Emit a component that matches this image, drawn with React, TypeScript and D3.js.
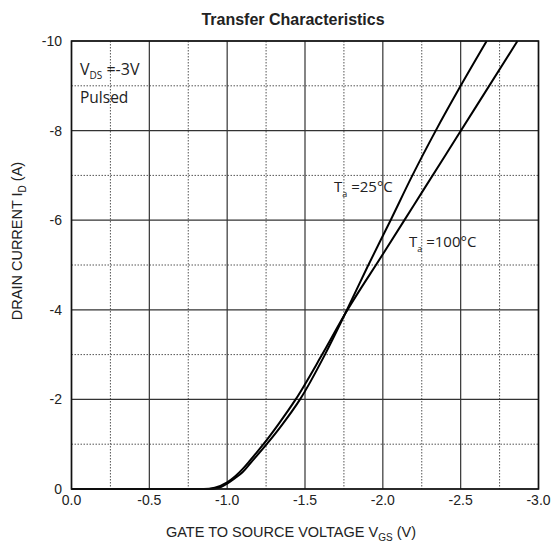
import React from "react";
import * as d3 from "d3";

const xTicks = [0, -0.5, -1.0, -1.5, -2.0, -2.5, -3.0];
const xTickLabels = ["0.0", "-0.5", "-1.0", "-1.5", "-2.0", "-2.5", "-3.0"];
const xMinor = [-0.25, -0.75, -1.25, -1.75, -2.25, -2.75];
const yTicks = [0, -2, -4, -6, -8, -10];
const yTickLabels = ["0", "-2", "-4", "-6", "-8", "-10"];
const yMinor = [-1, -3, -5, -7, -9];

const vgs25 = [0, -0.5, -0.8, -0.88, -0.95, -1.0, -1.05, -1.1, -1.15, -1.254, -1.35, -1.468, -1.628, -1.756, -1.9, -2.05, -2.19, -2.34, -2.5, -2.667];
const id25 = [0, 0, 0, 0, -0.03, -0.12, -0.24, -0.38, -0.58, -1.0, -1.42, -2.0, -3.0, -3.9, -4.95, -6.0, -7.0, -8.0, -9.0, -10.0];

const vgs100 = [0, -0.5, -0.8, -0.85, -0.92, -1.0, -1.05, -1.1, -1.15, -1.233, -1.33, -1.44, -1.61, -1.756, -2.0, -2.2, -2.4, -2.6, -2.865];
const id100 = [0, 0, 0, 0, -0.03, -0.15, -0.28, -0.45, -0.65, -1.0, -1.45, -2.0, -3.0, -3.9, -5.24, -6.34, -7.44, -8.54, -10.0];

const W = 552;
const H = 543;
const L = 71.5, R = 538.5, T = 41, B = 489;

export default function App() {
  const x = d3.scaleLinear().domain([0, -3]).range([L, R]);
  const y = d3.scaleLinear().domain([0, -10]).range([B, T]);
  const line = d3
    .line<[number, number]>()
    .x((d) => x(d[0]))
    .y((d) => y(d[1]))
    .curve(d3.curveMonotoneX);
  const d25 = line(vgs25.map((v, i) => [v, id25[i]] as [number, number])) || "";
  const d100 = line(vgs100.map((v, i) => [v, id100[i]] as [number, number])) || "";
  const sans = "'Liberation Sans', Arial, sans-serif";
  const lab = "'Open Sans', 'Noto Sans', sans-serif";
  return (
    <svg
      width={W}
      height={H}
      style={{ position: "absolute", left: 0, top: 0, background: "#fff" }}
    >
      <rect x={0} y={0} width={W} height={H} fill="#fff" />
      {xMinor.map((v) => (
        <line key={"xm" + v} x1={x(v)} x2={x(v)} y1={T} y2={B} stroke="#555" strokeWidth={1} strokeDasharray="1.5,1.5" />
      ))}
      {yMinor.map((v) => (
        <line key={"ym" + v} x1={L} x2={R} y1={y(v)} y2={y(v)} stroke="#555" strokeWidth={1} strokeDasharray="1.5,1.5" />
      ))}
      {xTicks.map((v) => (
        <line key={"xg" + v} x1={x(v)} x2={x(v)} y1={T} y2={B} stroke="#333" strokeWidth={1.2} />
      ))}
      {yTicks.map((v) => (
        <line key={"yg" + v} x1={L} x2={R} y1={y(v)} y2={y(v)} stroke="#333" strokeWidth={1.2} />
      ))}
      <path d={d25} fill="none" stroke="#000" strokeWidth={2} />
      <path d={d100} fill="none" stroke="#000" strokeWidth={2} />
      <rect x={L} y={T} width={R - L} height={B - T} fill="none" stroke="#111" strokeWidth={1.6} />
      {xTicks.map((v, i) => (
        <text key={"xl" + v} x={x(v)} y={505} textAnchor="middle" fontFamily={sans} fontSize={14} fill="#222">
          {xTickLabels[i]}
        </text>
      ))}
      {yTicks.map((v, i) => (
        <text key={"yl" + v} x={62} y={y(v) + 5} textAnchor="end" fontFamily={sans} fontSize={14} fill="#222">
          {yTickLabels[i]}
        </text>
      ))}
      <text x={293} y={25} textAnchor="middle" fontFamily={sans} fontSize={16} fontWeight="bold" fill="#222">
        Transfer Characteristics
      </text>
      <text x={291} y={537} textAnchor="middle" fontFamily={sans} fontSize={14.5} fill="#222">
        GATE TO SOURCE VOLTAGE V
        <tspan fontSize={10} dy={4}>GS</tspan>
        <tspan dy={-4}> (V)</tspan>
      </text>
      <text
        transform={`translate(22,241) rotate(-90)`}
        textAnchor="middle"
        fontFamily={sans}
        fontSize={14.5}
        fill="#222"
      >
        DRAIN CURRENT I
        <tspan fontSize={10} dy={4}>D</tspan>
        <tspan dy={-4}> (A)</tspan>
      </text>
      <text x={80} y={75} fontFamily={lab} fontSize={16} fill="#222">
        V<tspan fontSize={10} dy={4}>DS</tspan>
        <tspan dy={-4}> =-3V</tspan>
      </text>
      <text x={80} y={103} fontFamily={lab} fontSize={15.5} fill="#222">
        Pulsed
      </text>
      <text x={334} y={192} fontFamily={lab} fontSize={15} fill="#222">
        T<tspan fontSize={9} dy={5}>a</tspan>
        <tspan dy={-5}> =25°C</tspan>
      </text>
      <text x={409} y={247} fontFamily={lab} fontSize={15} fill="#222">
        T<tspan fontSize={9} dy={5}>a</tspan>
        <tspan dy={-5}> =100°C</tspan>
      </text>
    </svg>
  );
}
